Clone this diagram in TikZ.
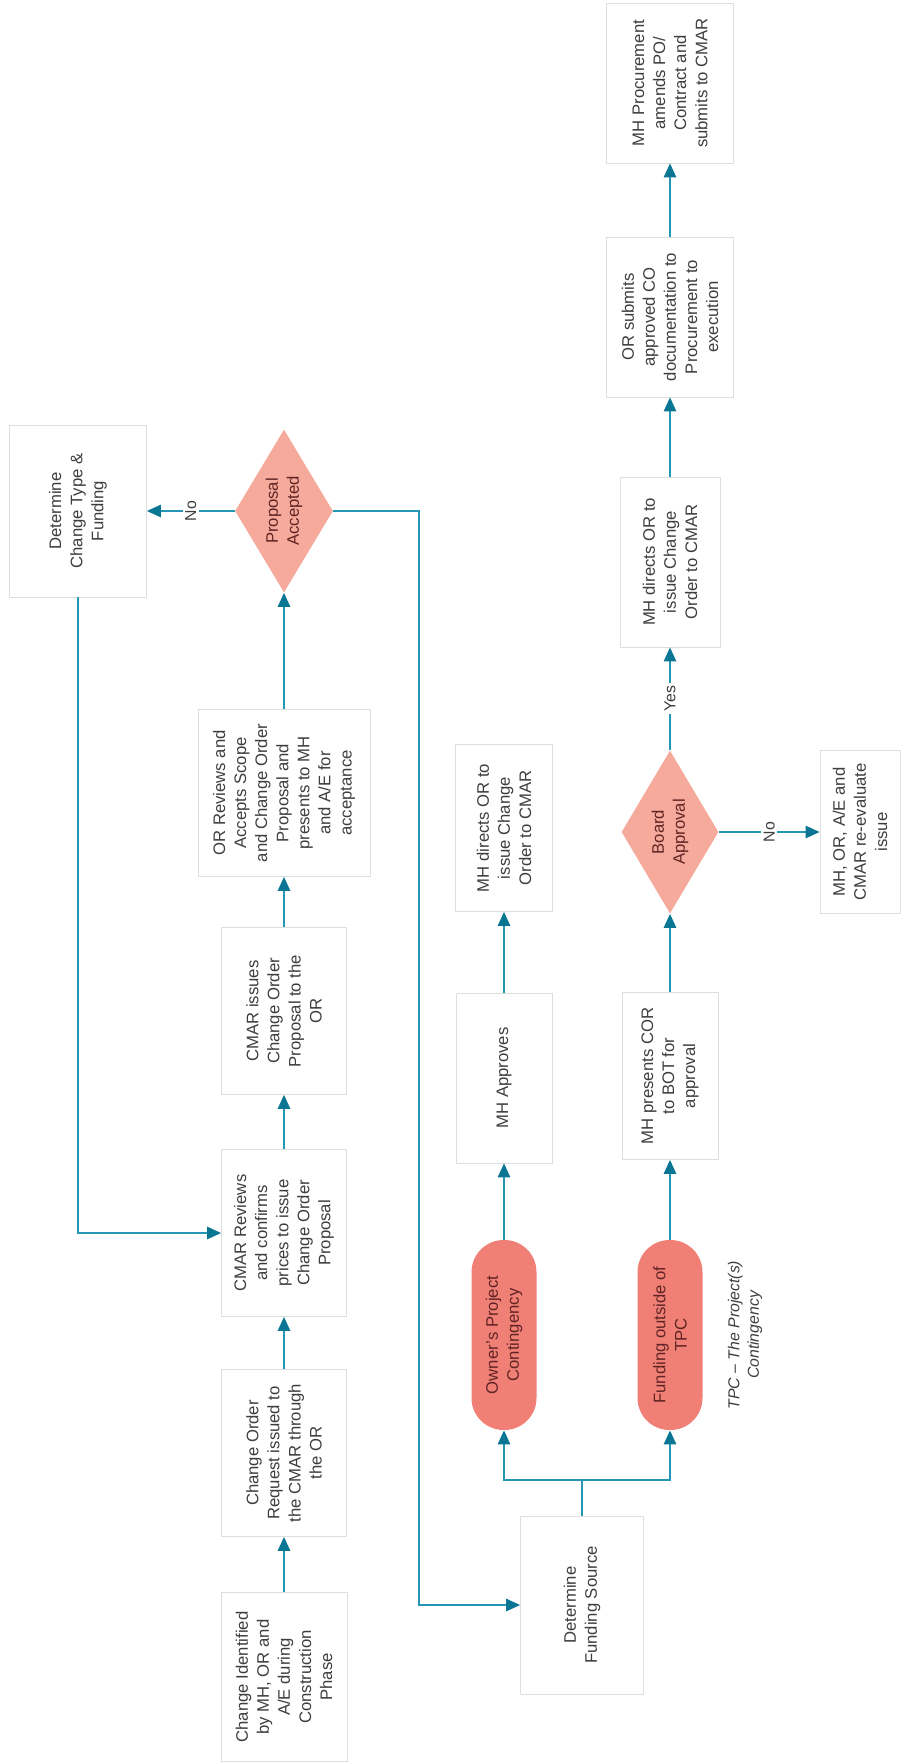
\documentclass[tikz,border=0pt]{standalone}
\usepackage{fontspec}
\setmainfont{Liberation Sans}
\usepackage{xcolor}
\definecolor{flowline}{RGB}{38,150,182}
\definecolor{flowtip}{RGB}{10,118,148}
\definecolor{rose}{RGB}{246,170,156}
\definecolor{salmon}{RGB}{240,128,118}
\definecolor{wine}{RGB}{96,36,36}
\definecolor{ink}{RGB}{62,62,62}
\definecolor{frame}{RGB}{222,222,222}
\usetikzlibrary{arrows.meta,shapes.geometric}
\tikzset{
  %% Base: white process boxes, turned on their side
  procbox/.style={
    draw=frame, fill=white, rotate=90, align=center,
    font=\fontsize{9.5}{12}\selectfont, text=ink,
    inner sep=2pt, minimum width=3.34cm, minimum height=2.5cm,
  },
  %% Decisions
  decision/.style={
    diamond, fill=rose, rotate=90, align=center, aspect=1.66,
    font=\fontsize{9.5}{12}\selectfont, text=wine,
    inner sep=0pt, minimum width=3.26cm, minimum height=1.96cm,
  },
  %% Funding sources
  fundpill/.style={
    rectangle, rounded corners=0.64cm, fill=salmon, rotate=90,
    align=center, font=\fontsize{9.5}{12}\selectfont, text=wine,
    minimum width=3.8cm, minimum height=1.3cm,
  },
  flow/.style={draw=flowline, line width=1.1pt,
    -{Triangle[length=8pt,width=7pt,color=flowtip]}},
  answer/.style={fill=white, rotate=90, inner sep=1.5pt,
    font=\fontsize{9}{11}\selectfont, text=ink},
}
\begin{document}
\begin{tikzpicture}[x=0.02cm,y=-0.02cm]
\useasboundingbox (0,0) rectangle (906,1764);

%% main line
\node[procbox,minimum width=3.38cm,minimum height=2.52cm] (ident) at (284,1677)
  {Change Identified\\by MH, OR and\\A/E during\\Construction\\Phase};
\node[procbox] (request) at (284,1453)
  {Change Order\\Request issued to\\the CMAR through\\the OR};
\node[procbox] (cmarrev) at (284,1233)
  {CMAR Reviews\\and confirms\\prices to issue\\Change Order\\Proposal};
\node[procbox] (cmaris) at (284,1011)
  {CMAR issues\\Change Order\\Proposal to the\\OR};
\node[procbox,minimum height=3.44cm] (orrev) at (284,793)
  {OR Reviews and\\Accepts Scope\\and Change Order\\Proposal and\\presents to MH\\and A/E for\\acceptance};
\node[decision] (accept) at (284,511) {Proposal\\Accepted};
\node[procbox,minimum width=3.44cm,minimum height=2.74cm] (chtype) at (78,511)
  {Determine\\Change Type \&\\Funding};
\coordinate (bend) at (419,511);

%% funding
\node[procbox,minimum width=3.56cm,minimum height=2.46cm] (fundsrc) at (582,1605)
  {Determine\\Funding Source};
\coordinate (split) at (582,1480);
\node[fundpill] (owner) at (504,1335) {Owner's Project\\Contingency};
\node[fundpill] (outside) at (670,1335) {Funding outside of\\TPC};
\node[rotate=90,align=center,text=ink,font=\fontsize{9}{11}\selectfont\itshape]
  (note) at (745,1335) {TPC -- The Project(s)\\Contingency};

%% owner's contingency
\node[procbox,minimum width=3.4cm,minimum height=1.92cm] (mhapp) at (504,1078)
  {MH Approves};
\node[procbox,minimum height=1.94cm] (mhdir) at (504,828)
  {MH directs OR to\\issue Change\\Order to CMAR};

%% outside TPC
\node[procbox,minimum height=1.92cm] (mhcor) at (670,1076)
  {MH presents COR\\to BOT for\\approval};
\node[decision,aspect=1.68,minimum height=1.94cm] (board) at (670,832)
  {Board\\Approval};
\node[procbox,minimum width=3.26cm,minimum height=1.6cm] (reeval) at (860,832)
  {MH, OR, A/E and\\CMAR re-evaluate\\issue};
\node[procbox,minimum width=3.4cm,minimum height=2cm] (mhdirb) at (670,562)
  {MH directs OR to\\issue Change\\Order to CMAR};
\node[procbox,minimum width=3.2cm,minimum height=2.54cm] (orsub) at (670,317)
  {OR submits\\approved CO\\documentation to\\Procurement to\\execution};
\node[procbox,minimum width=3.2cm,minimum height=2.54cm] (proc) at (670,83)
  {MH Procurement\\amends PO/\\Contract and\\submits to CMAR};

%% connectors
\draw[flow] (ident) -- (request);
\draw[flow] (request) -- (cmarrev);
\draw[flow] (cmarrev) -- (cmaris);
\draw[flow] (cmaris) -- (orrev);
\draw[flow] (orrev) -- (accept);
\draw[flow] (accept) -- node[answer] {No} (chtype);
\draw[flow] (chtype) |- (cmarrev);
\draw[flow] (accept) -- (bend) |- (fundsrc);
\draw[draw=flowline,line width=1.1pt] (fundsrc) -- (split);
\draw[flow] (split) -| (owner);
\draw[flow] (split) -| (outside);
\draw[flow] (owner) -- (mhapp);
\draw[flow] (mhapp) -- (mhdir);
\draw[flow] (outside) -- (mhcor);
\draw[flow] (mhcor) -- (board);
\draw[flow] (board) -- node[answer] {No} (reeval);
\draw[flow] (board) -- node[answer] {Yes} (mhdirb);
\draw[flow] (mhdirb) -- (orsub);
\draw[flow] (orsub) -- (proc);
\end{tikzpicture}
\end{document}
